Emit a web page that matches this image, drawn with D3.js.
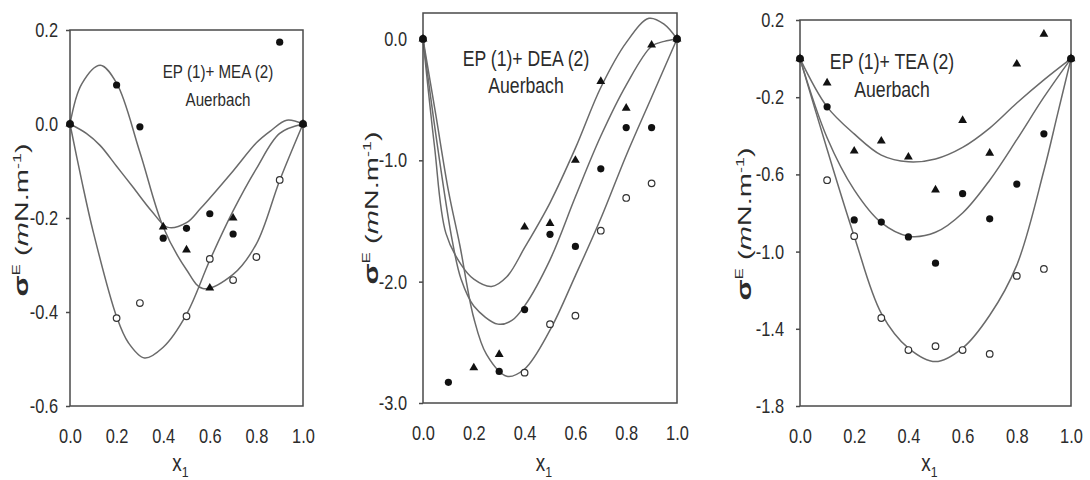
<!DOCTYPE html>
<html>
<head>
<meta charset="utf-8">
<script src="https://cdn.jsdelivr.net/npm/d3@7"></script>
<style>
  body { margin: 0; background: #fff; }
  text { font-family: "Liberation Sans", Arial, sans-serif; fill: #2b2b2b; }
</style>
</head>
<body>
<div id="chart"></div>
<script>
// shared x ticks (mole fraction x1)
const xTicks = [0, 0.2, 0.4, 0.6, 0.8, 1.0];

// ---- EP (1) + MEA (2) ----
const meaTicks = [-0.6, -0.4, -0.2, 0.0, 0.2];
const meaFilledX = [0, 0.2, 0.3, 0.4, 0.5, 0.6, 0.7, 0.9, 1.0];
const meaFilledY = [0, 0.083, -0.006, -0.243, -0.222, -0.191, -0.234, 0.174, 0];
const meaTriX = [0, 0.4, 0.5, 0.6, 0.7, 1.0];
const meaTriY = [0, -0.219, -0.268, -0.349, -0.200, 0];
const meaOpenX = [0, 0.2, 0.3, 0.5, 0.6, 0.7, 0.8, 0.9, 1.0];
const meaOpenY = [0, -0.413, -0.381, -0.409, -0.287, -0.332, -0.283, -0.119, 0];
// fitted curves
const meaC1X = [0, 0.05, 0.13, 0.2, 0.3, 0.4, 0.5, 0.57, 0.7, 0.8, 0.9, 1.0];
const meaC1Y = [0, 0.085, 0.125, 0.087, -0.06, -0.219, -0.31, -0.35, -0.32, -0.255, -0.12, 0];
const meaC2X = [0, 0.07, 0.13, 0.2, 0.27, 0.35, 0.42, 0.5, 0.56, 0.7, 0.8, 0.86, 0.93, 1.0];
const meaC2Y = [0, -0.02, -0.046, -0.09, -0.134, -0.185, -0.22, -0.21, -0.18, -0.10, -0.04, -0.015, 0.008, 0];
const meaC3X = [0, 0.05, 0.1, 0.2, 0.25, 0.32, 0.4, 0.5, 0.6, 0.7, 0.8, 0.9, 1.0];
const meaC3Y = [0, -0.12, -0.23, -0.41, -0.465, -0.498, -0.475, -0.405, -0.29, -0.185, -0.095, -0.02, 0];

// ---- EP (1) + DEA (2) ----
const deaTicks = [-3.0, -2.0, -1.0, 0.0];
const deaFilledX = [0, 0.1, 0.3, 0.4, 0.5, 0.6, 0.7, 0.8, 0.9, 1.0];
const deaFilledY = [0, -2.83, -2.74, -2.23, -1.61, -1.71, -1.07, -0.73, -0.73, 0];
const deaTriX = [0, 0.2, 0.3, 0.4, 0.5, 0.6, 0.7, 0.8, 0.9, 1.0];
const deaTriY = [0, -2.71, -2.6, -1.55, -1.52, -1.0, -0.35, -0.57, -0.05, 0];
const deaOpenX = [0, 0.4, 0.5, 0.6, 0.7, 0.8, 0.9, 1.0];
const deaOpenY = [0, -2.75, -2.35, -2.28, -1.58, -1.31, -1.19, 0];
const deaC1X = [0, 0.045, 0.09, 0.15, 0.2, 0.27, 0.33, 0.4, 0.5, 0.6, 0.7, 0.8, 0.89, 0.95, 1.0];
const deaC1Y = [0, -0.88, -1.6, -1.86, -1.98, -2.04, -1.96, -1.72, -1.35, -0.9, -0.4, -0.03, 0.17, 0.12, 0];
const deaC2X = [0, 0.05, 0.115, 0.15, 0.2, 0.295, 0.35, 0.4, 0.5, 0.6, 0.7, 0.8, 0.9, 0.95, 1.0];
const deaC2Y = [0, -0.78, -1.66, -1.98, -2.2, -2.35, -2.32, -2.2, -1.82, -1.3, -0.8, -0.38, -0.06, -0.02, 0];
const deaC3X = [0, 0.05, 0.1, 0.145, 0.2, 0.25, 0.33, 0.4, 0.5, 0.6, 0.7, 0.8, 0.9, 1.0];
const deaC3Y = [0, -0.62, -1.25, -1.7, -2.3, -2.6, -2.78, -2.72, -2.4, -1.95, -1.48, -0.96, -0.48, 0];

// ---- EP (1) + TEA (2) ----
const teaTicks = [-1.8, -1.4, -1.0, -0.6, -0.2, 0.2];
const teaX = [0, 0.1, 0.2, 0.3, 0.4, 0.5, 0.6, 0.7, 0.8, 0.9, 1.0];
const teaFilledY = [0, -0.25, -0.836, -0.847, -0.924, -1.06, -0.70, -0.83, -0.65, -0.39, 0];
const teaTriY = [0, -0.126, -0.479, -0.427, -0.51, -0.68, -0.32, -0.49, -0.028, 0.127, 0];
const teaOpenY = [0, -0.63, -0.92, -1.344, -1.51, -1.49, -1.51, -1.53, -1.126, -1.09, 0];
const teaC1Y = [0, -0.25, -0.39, -0.50, -0.535, -0.52, -0.46, -0.36, -0.23, -0.11, 0];
const teaC2Y = [0, -0.41, -0.68, -0.85, -0.92, -0.9, -0.8, -0.63, -0.42, -0.2, 0];
const teaC3X = [0, 0.1, 0.2, 0.3, 0.4, 0.5, 0.6, 0.7, 0.8, 0.9, 0.95, 1.0];
const teaC3Y = [0, -0.47, -0.92, -1.32, -1.5, -1.57, -1.5, -1.33, -1.07, -0.58, -0.29, 0];

// the picture is squeezed sideways, so text gets a horizontal scale
const SX = 0.82;

const panels = [
  { left: 70, right: 303, top: 30, bottom: 406, yDomain: [-0.6, 0.2], yTicks: meaTicks, tickPad: 8,
    title: "EP (1)+ MEA (2)", tx: 218, ty: 78, sy: 106, tfs: 18.5, lx: 28, ly: 220,
    filled: [meaFilledX, meaFilledY], tri: [meaTriX, meaTriY], open: [meaOpenX, meaOpenY],
    curves: [[meaC1X, meaC1Y], [meaC2X, meaC2Y], [meaC3X, meaC3Y]] },
  { left: 423, right: 677, top: 13, bottom: 403, yDomain: [-3.0, 0.214], yTicks: deaTicks, tickPad: 12,
    title: "EP (1)+ DEA (2)", tx: 526, ty: 66, sy: 93, tfs: 21.5, lx: 378, ly: 208,
    filled: [deaFilledX, deaFilledY], tri: [deaTriX, deaTriY], open: [deaOpenX, deaOpenY],
    curves: [[deaC1X, deaC1Y], [deaC2X, deaC2Y], [deaC3X, deaC3Y]] },
  { left: 800, right: 1071, top: 20, bottom: 406, yDomain: [-1.8, 0.2], yTicks: teaTicks, tickPad: 12,
    title: "EP (1)+ TEA (2)", tx: 892, ty: 69, sy: 97, tfs: 21.5, lx: 751, ly: 224,
    filled: [teaX, teaFilledY], tri: [teaX, teaTriY], open: [teaX, teaOpenY],
    curves: [[teaX, teaC1Y], [teaX, teaC2Y], [teaC3X, teaC3Y]] }
];

const svg = d3.select("#chart").append("svg")
  .attr("width", 1090)
  .attr("height", 480)
  .style("background-color", "white");

const fmt = v => v.toFixed(1);

panels.forEach(p => {
  const x = d3.scaleLinear().domain([0, 1]).range([p.left, p.right]);
  const y = d3.scaleLinear().domain(p.yDomain).range([p.bottom, p.top]);
  const g = svg.append("g");

  // fitted lines
  const line = d3.line()
    .x(d => x(d[0]))
    .y(d => y(d[1]))
    .curve(d3.curveCatmullRom.alpha(0.5));
  p.curves.forEach(c => {
    g.append("path")
      .datum(d3.zip(c[0], c[1]))
      .attr("d", line)
      .attr("fill", "none")
      .attr("stroke", "#6a6a6a")
      .attr("stroke-width", 1.5);
  });

  // box
  g.append("rect")
    .attr("x", p.left).attr("y", p.top)
    .attr("width", p.right - p.left).attr("height", p.bottom - p.top)
    .attr("fill", "none")
    .attr("stroke", "#4a4a4a")
    .attr("stroke-width", 1.5);

  // y axis
  const ya = g.append("g")
    .attr("transform", `translate(${p.left},0)`)
    .attr("color", "#4a4a4a")
    .call(d3.axisLeft(y).tickValues(p.yTicks).tickSize(4).tickPadding(p.tickPad).tickFormat(fmt));
  ya.select(".domain").remove();
  ya.selectAll("line").attr("stroke-width", 1.5);
  ya.selectAll("text")
    .attr("font-size", 20)
    .attr("x", -(4 + p.tickPad) / SX)
    .attr("transform", `scale(${SX},1)`);

  // x axis
  const xa = g.append("g")
    .attr("transform", `translate(0,${p.bottom})`)
    .call(d3.axisBottom(x).tickValues(xTicks).tickSize(0).tickPadding(23).tickFormat(fmt));
  xa.select(".domain").remove();
  xa.selectAll("text")
    .attr("font-size", 20)
    .attr("transform", `scale(${SX},1)`);

  // x label
  const xl = g.append("text")
    .attr("transform", `translate(${(p.left + p.right) / 2 - 6},471) scale(${SX},1)`)
    .attr("text-anchor", "middle")
    .attr("font-size", 23);
  xl.append("tspan").text("x");
  xl.append("tspan").attr("font-size", 15).attr("dy", 6).text("1");

  // y label
  const yl = g.append("text")
    .attr("transform", `translate(${p.lx},${p.ly}) scale(0.65,1) rotate(-90)`)
    .attr("text-anchor", "middle")
    .attr("font-size", 29);
  yl.append("tspan").attr("font-size", 31).attr("font-weight", "bold").text("σ");
  yl.append("tspan").attr("font-size", 17).attr("dy", -12).text("E");
  yl.append("tspan").attr("dy", 12).text(" (");
  yl.append("tspan").attr("font-style", "italic").text("m");
  yl.append("tspan").text("N.m");
  yl.append("tspan").attr("font-size", 18).attr("dy", -11).text("-1");
  yl.append("tspan").attr("dy", 11).text(")");

  // annotation
  g.append("text")
    .attr("transform", `translate(${p.tx},${p.ty}) scale(${SX},1)`)
    .attr("text-anchor", "middle")
    .attr("font-size", p.tfs)
    .text(p.title);
  g.append("text")
    .attr("transform", `translate(${p.tx},${p.sy}) scale(${SX},1)`)
    .attr("text-anchor", "middle")
    .attr("font-size", p.tfs)
    .text("Auerbach");

  // measured points
  g.selectAll(".open")
    .data(d3.zip(p.open[0], p.open[1]))
    .join("circle")
      .attr("class", "open")
      .attr("cx", d => x(d[0]))
      .attr("cy", d => y(d[1]))
      .attr("r", 3.3)
      .attr("fill", "white")
      .attr("stroke", "#333")
      .attr("stroke-width", 1.2);

  g.selectAll(".tri")
    .data(d3.zip(p.tri[0], p.tri[1]))
    .join("path")
      .attr("class", "tri")
      .attr("transform", d => `translate(${x(d[0])},${y(d[1])})`)
      .attr("d", d3.symbol(d3.symbolTriangle).size(34))
      .attr("fill", "#111");

  g.selectAll(".filled")
    .data(d3.zip(p.filled[0], p.filled[1]))
    .join("circle")
      .attr("class", "filled")
      .attr("cx", d => x(d[0]))
      .attr("cy", d => y(d[1]))
      .attr("r", 3.6)
      .attr("fill", "#111");
});
</script>
</body>
</html>
